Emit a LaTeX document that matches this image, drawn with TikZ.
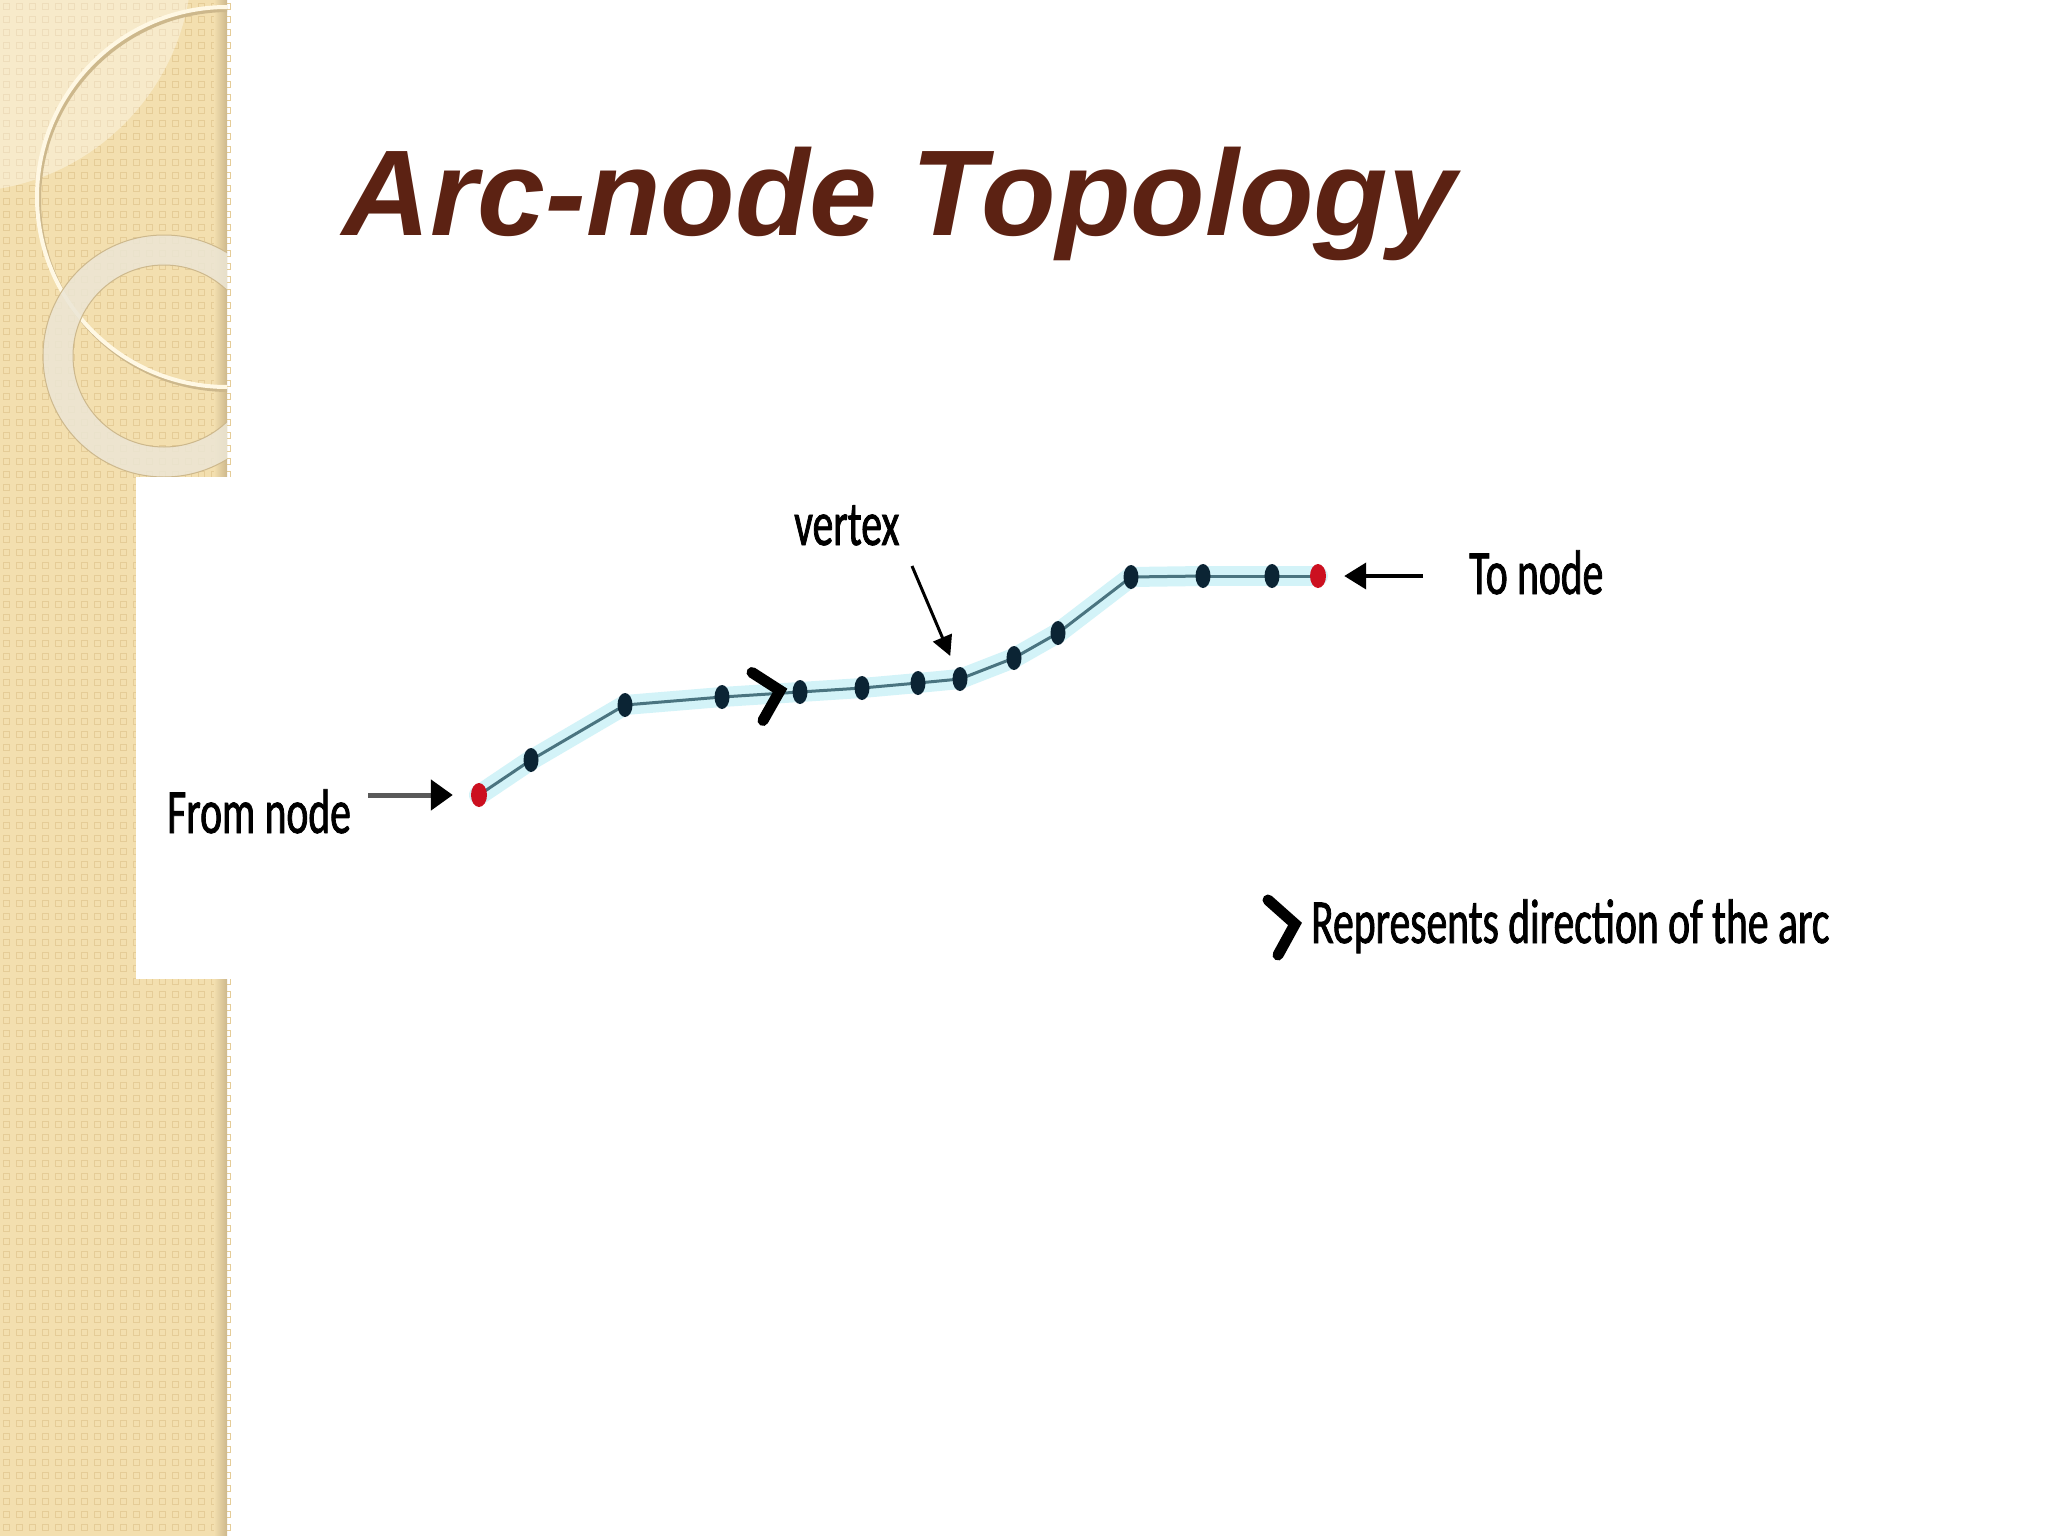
\documentclass[tikz,border=0pt]{standalone}
\usepackage{fontspec}
\setmainfont{Carlito}
\newfontfamily\titlefont{Liberation Sans}
\newfontfamily\lblfont[FakeStretch=0.66,FakeBold=1.2]{Carlito}
\usetikzlibrary{positioning,arrows.meta,shapes.geometric,calc}
\definecolor{TitleBrown}{HTML}{5C2213}
\definecolor{SideBeige}{HTML}{F3DFAF}
\definecolor{SideSq}{HTML}{E5CC97}
\definecolor{RingCream}{HTML}{FFF8E4}
\definecolor{RingEdge}{HTML}{CDB88C}
\definecolor{ArcGlow}{HTML}{D3F3F8}
\definecolor{ArcLine}{HTML}{4A7480}
\definecolor{VtxBlue}{HTML}{0B2434}
\definecolor{NodeRed}{HTML}{CC1020}
\tikzset{
    vtx/.style = {ellipse, fill=VtxBlue, inner sep=0pt,
        minimum width=15pt, minimum height=24pt},
    endnode/.style = {vtx, fill=NodeRed, minimum width=16pt, minimum height=24pt},
    lbl/.style = {inner sep=0pt, anchor=base west, font=\lblfont\fontsize{63}{70}\selectfont},
    tail/.style = {coordinate},
    arrow/.style = {draw, -{Triangle[length=22pt,width=26pt]}, line width=4pt},
    glow/.style = {draw=ArcGlow, line width=20pt, line cap=round},
    arcline/.style = {draw=ArcLine, line width=3pt},
    chevron/.style = {draw, line width=11pt, line cap=round}
}

\begin{document}
\begin{tikzpicture}[x=1pt, y=-1pt]
    \useasboundingbox (0,0) rectangle (2048,1536);
    % side bar
    \fill[SideBeige] (0,0) rectangle (227,1536);
    \draw[SideSq, line width=1.3pt] \foreach \i in {0,...,17}{\foreach \j in {0,...,118}{
        (\i*13+3.5,\j*13+3.5) rectangle ++(6,6)}};
    \shade[left color=SideBeige, right color=RingEdge] (214,0) rectangle (227,1536);
    \begin{scope}
        \clip (0,0) rectangle (227,1536);
        \fill[white, opacity=0.35] (-40,-40) circle (232);
        \draw[RingEdge, line width=4pt] (229,200) circle (190);
        \draw[RingCream, line width=4pt] (227,197) circle (190);
        \fill[RingCream!85!gray, opacity=0.85, even odd rule] (164,356) circle (121) (164,356) circle (91);
        \draw[RingEdge, line width=1pt] (164,356) circle (121) (164,356) circle (91);
    \end{scope}
    \fill[white] (136,477) rectangle (1855,979);
    % title
    \node[anchor=base west, inner sep=0pt, TitleBrown, name=title] at (342,235)
        {\titlefont\fontsize{122}{130}\selectfont\bfseries\itshape Arc-node Topology};
    % arc
    \foreach \n/\x/\y in {0/479/795, 1/531/760, 2/625/705, 3/722/697, 4/800/692, 5/862/688, 6/918/683,
        7/960/679, 8/1014/658, 9/1058/633, 10/1131/577, 11/1203/576, 12/1272/576, 13/1318/576}
        \coordinate (c\n) at (\x,\y);
    \foreach \a [remember=\a as \b (initially 0)] in {1,...,13}
        \draw[glow] (c\b) -- (c\a);
    \foreach \a [remember=\a as \b (initially 0)] in {1,...,13}
        \draw[arcline] (c\b) -- (c\a);
    \node[endnode] (p0) at (c0) {};
    \foreach \n in {1,...,12}
        \node[vtx] (p\n) at (c\n) {};
    \node[endnode] (p13) at (c13) {};
    \draw[chevron] ($(p3)!0.5!(p4)$) ++(-9,-22) -- ++(28,18) -- ++(-17,30);
    % labels
    \node[lbl, name=fromlbl] at (167,833) {From node};
    \node[tail, name=fromtail] at (368,795) {};
    \draw[arrow, draw=black!65, -{Triangle[length=22pt,width=30pt,color=black]}, line width=5pt, shorten >=18pt] (fromtail) -- (p0);
    \node[lbl, name=tolbl] at (1469,594) {To node};
    \node[tail, name=totail] at (1423,576) {};
    \draw[arrow, shorten >=18pt] (totail) -- (p13);
    \node[lbl, name=vtxlbl] at (794,545) {vertex};
    \node[tail, name=vtxtail] at (912,566) {};
    \draw[arrow, -{Triangle[length=20pt,width=20pt]}, line width=3pt, shorten >=14pt] (vtxtail) -- (p7);
    \node[lbl, name=legend] at (1311,943) {Represents direction of the arc};
    \draw[chevron] ($(legend.base west)+(-43,-43)$) -- ++(27,24) -- ++(-17,31);
\end{tikzpicture}
\end{document}
